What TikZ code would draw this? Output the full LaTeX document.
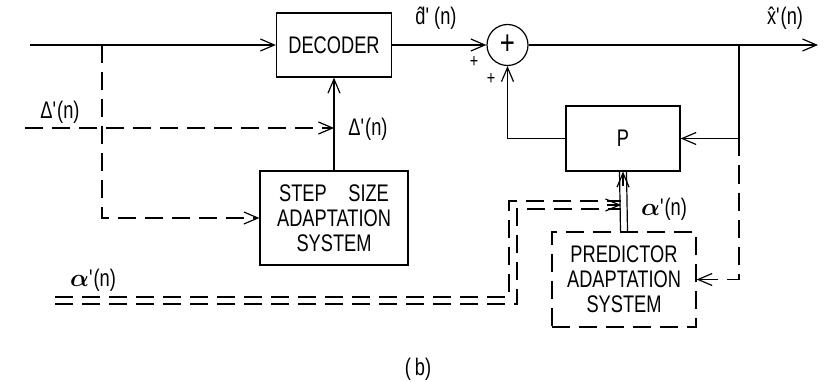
\documentclass[tikz,border=0pt]{standalone}
\usepackage{fontspec}
\setmainfont{Liberation Sans}[FakeStretch=0.76]
\usepackage{bm}
\usetikzlibrary{arrows.meta}
\begin{document}
\begin{tikzpicture}[x=1pt,y=-1pt,
  every node/.style={font=\fontsize{24}{25}\selectfont, inner sep=0pt},
  ln/.style={line width=1.2pt},
  blk/.style={draw, line width=1.2pt, align=center},
  tip/.style={-{Straight Barb[length=14pt,width=12pt,line width=1.2pt]}},
  dsh/.style={dash pattern=on 18pt off 9pt},
  small/.style={font=\fontsize{19}{20}\selectfont},
  big/.style={font=\fontsize{34}{34}\selectfont},
]
\useasboundingbox[fill=white] (0,0) rectangle (826,382);
% blocks
\node[blk, minimum width=115pt, minimum height=64pt] (dec) at (334,45) {DECODER};
\node[blk, minimum width=148pt, minimum height=94pt] (step) at (334,218) {STEP\hspace{0.9em}SIZE\\ADAPTATION\\SYSTEM};
\node[blk, circle, big, minimum size=41pt] (sum) at (507.5,45) {+};
\node[blk, minimum width=114pt, minimum height=65pt] (P) at (623,138.5) {P};
\node[blk, dsh, minimum width=144pt, minimum height=95pt] (pred) at (624,279.5) {PREDICTOR\\ADAPTATION\\SYSTEM};
% coordinates
\coordinate (in) at (30,45);
\coordinate (out) at (818,45);
\coordinate (br) at (739,45);
\coordinate (dl) at (102,45);
\coordinate (din) at (25,128);
\coordinate (aouts) at (55,297);
\coordinate (aoutc) at (509,201);
\coordinate (ains) at (55,304);
\coordinate (ainc) at (517,209);
\coordinate (aend) at (621,205);
% solid connectors
\draw[ln,tip] (in) -- (dec.west);
\draw[ln,tip] (dec.east) -- (sum.west);
\draw[ln,tip] (sum.east) -- (out);
\draw[ln,tip] (br) |- (P.east);
\draw[ln,tip] (P.west) -| (sum.south);
\draw[ln,tip] (step.north) -- (dec.south);
\draw[ln] ([xshift=-3.5pt]pred.north) -- ([xshift=-3.5pt]P.south);
\draw[ln] ([xshift=3.5pt]pred.north) -- ([xshift=3.5pt]P.south);
\draw[ln,tip] ([yshift=-14pt]P.south) -- (P.south);
% dashed connectors
\draw[ln,dsh,tip] (din) -- (din -| step.north);
\draw[ln,dsh,tip] (dl) |- (step.west);
\draw[ln,dsh,tip] (P.east -| br) |- (pred.east);
\draw[ln,dsh] (aouts) -| (aoutc) -- (aoutc -| aend);
\draw[ln,dsh] (ains) -| (ainc) -- (ainc -| aend);
\draw[ln,tip] ([xshift=-14pt]aend) -- (aend);
% labels
\node at (60,112) {Δ\textquotesingle(n)};
\node at (368,129) {Δ\textquotesingle(n)};
\node at (436,18) {\^{d}\textquotesingle\,(n)};
\node at (785,18) {\^{x}\textquotesingle(n)};
\node[small] at (474,62) {+};
\node[small] at (491,79) {+};
\node at (664,209) {$\bm{\alpha}$\textquotesingle(n)};
\node at (93,280) {$\bm{\alpha}$\textquotesingle(n)};
\node at (418,369) {(\,b)};
\end{tikzpicture}
\end{document}
